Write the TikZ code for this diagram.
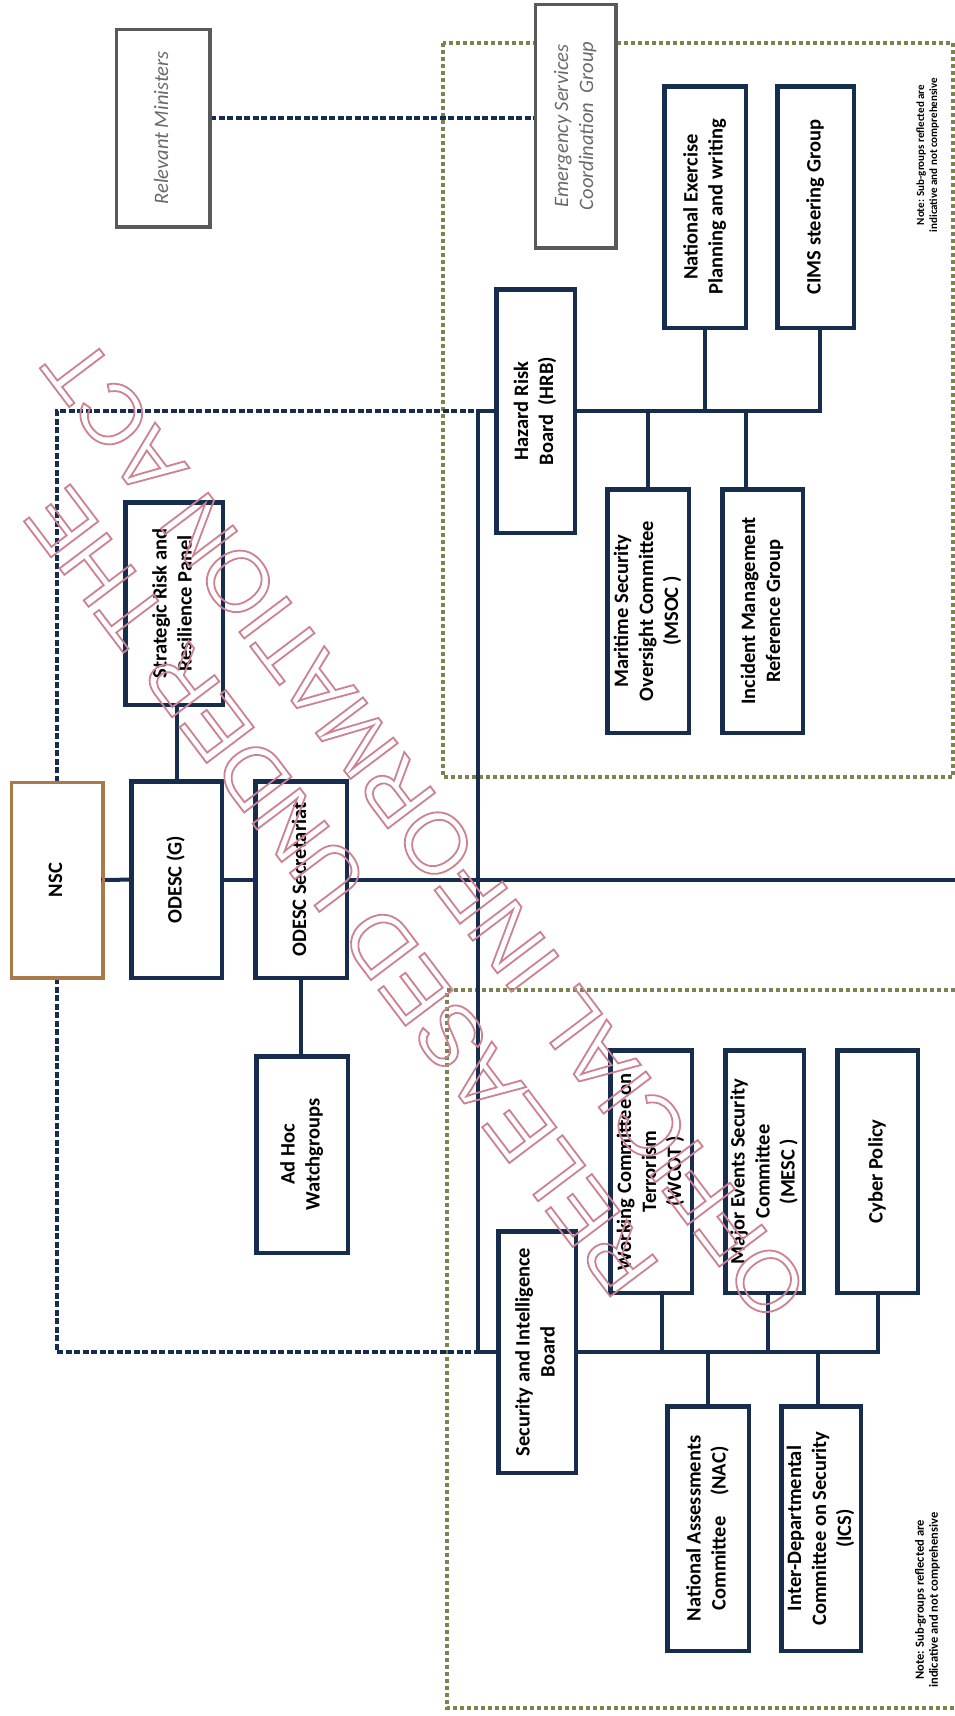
\documentclass[tikz,border=0pt]{standalone}
\usepackage{fontspec}
\setmainfont{Carlito}
\newfontfamily\wmfont{Liberation Sans}
\usepackage{graphicx}
\definecolor{navy}{RGB}{22,45,78}
\definecolor{olive}{RGB}{122,132,78}
\definecolor{grayb}{RGB}{90,90,90}
\definecolor{grayt}{RGB}{105,105,105}
\definecolor{brownb}{RGB}{168,122,72}
\definecolor{wmcol}{RGB}{205,130,145}
\newcommand{\vtxt}[1]{\rotatebox{90}{\begin{tabular}{@{}c@{}}#1\end{tabular}}}
\newcommand{\olt}[1]{\special{pdf:literal direct 1 Tr 1.8 w}#1\special{pdf:literal direct 0 Tr}}
\begin{document}
\begin{tikzpicture}[x=1pt,y=-1pt,
  box/.style={draw=navy, line width=3pt, fill=white, inner sep=0pt, font=\fontsize{20.5}{25}\selectfont\bfseries},
  gbox/.style={draw=grayb, line width=2.5pt, fill=white, inner sep=0pt, text=grayt, font=\fontsize{20.5}{25}\selectfont\itshape},
  nscbox/.style={box, draw=brownb, line width=2.5pt},
  link/.style={draw=navy, line width=4pt, line cap=rect},
  blued/.style={draw=navy, line width=4.5pt, dash pattern=on 6pt off 2.5pt},
  greend/.style={draw=olive, line width=3.5pt, dash pattern=on 4pt off 3pt},
  note/.style={inner sep=0pt, font=\fontsize{11}{13}\selectfont\bfseries},
  sz/.style 2 args={minimum width=#1pt, minimum height=#2pt}
]
\path[use as bounding box] (0,0) rectangle (955,1716);
\fill[white] (0,0) rectangle (955,1716);

% green dotted groupings
\draw[greend] (443,43) rectangle (953,777);
\draw[greend] (955,990) -- (447,990) -- (447,1708) -- (955,1708);

% coordinates
\coordinate (spT) at (478,411);
\coordinate (spB) at (478,1352);
\coordinate (mainR) at (955,879.5);
\coordinate (lk) at (0,118);
\coordinate (hrbJ) at (820,411);
\coordinate (sibJ) at (877.5,1352);

% nodes
\node[gbox, sz={92}{196}] (rm) at (163,128) {\vtxt{Relevant Ministers}};
\node[gbox, sz={79}{242}] (escg) at (575.5,126) {\vtxt{Emergency Services\\Coordination\ \ Group}};
\node[nscbox, sz={90}{194}] (nsc) at (57,880) {\vtxt{NSC}};
\node[box, sz={96}{201}] (srrp) at (174,603.5) {\vtxt{Strategic Risk and\\Resilience Panel}};
\node[box, sz={89}{195}] (odescg) at (176.5,879.5) {\vtxt{ODESC (G)}};
\node[box, sz={90}{195}] (sec) at (301,879.5) {\vtxt{ODESC Secretariat}};
\node[box, sz={90}{195}] (adhoc) at (302,1154.5) {\vtxt{Ad Hoc\\Watchgroups}};
\node[box, sz={77}{242}] (hrb) at (535.5,411) {\vtxt{Hazard Risk\\Board\ \ (HRB)}};
\node[box, sz={80}{242}] (msoc) at (648,611) {\vtxt{Maritime Security\\Oversight Committee\\(MSOC )}};
\node[box, sz={79}{242}] (imrg) at (762.5,611) {\vtxt{Incident Management\\Reference Group}};
\node[box, sz={80}{240}] (nep) at (705,207) {\vtxt{National Exercise\\Planning and writing}};
\node[box, sz={75}{240}] (cims) at (815.5,207) {\vtxt{CIMS steering Group}};
\node[box, sz={76}{240}] (sib) at (537,1352) {\vtxt{Security and Intelligence\\Board}};
\node[box, sz={80}{241}] (wcot) at (651,1171.5) {\vtxt{Working Committee on\\Terrorism\\(WCOT )}};
\node[box, sz={77}{241}] (mesc) at (764.5,1171.5) {\vtxt{Major Events Security\\Committee\\(MESC )}};
\node[box, sz={79}{241}] (cyber) at (877.5,1171.5) {\vtxt{Cyber Policy}};
\node[box, sz={80}{243}] (nac) at (708,1528.5) {\vtxt{National Assessments\\Committee\quad(NAC)}};
\node[box, sz={78}{243}] (ics) at (821,1528.5) {\vtxt{Inter-Departmental\\Committee on Security\\(ICS)}};

\node[note] (note1) at (928,155) {\vtxt{Note: Sub-groups reflected are\\indicative and not comprehensive}};
\node[note, font=\fontsize{12.5}{14}\selectfont\bfseries] (note2) at (928,1600) {\vtxt{Note: Sub-groups reflected are\\indicative and not comprehensive}};

% blue dashed
\draw[blued] (rm.east |- lk) -- (escg.west |- lk);
\draw[blued] (nsc.north) -- (nsc.north |- spT) -- (spT);
\draw[blued] (nsc.south) -- (nsc.south |- spB) -- (spB);

% solid links
\draw[link] (spT) -- (spB);
\draw[link] (nsc) -- (odescg);
\draw[link] (odescg) -- (sec);
\draw[link] (sec) -- (mainR);
\draw[link] (odescg.north) -- (odescg.north |- srrp.south);
\draw[link] (sec.south) -- (sec.south |- adhoc.north);
\draw[link] (spT) -- (hrb);
\draw[link] (hrb) -- (hrbJ);
\draw[link] (msoc.north) -- (msoc.north |- hrbJ);
\draw[link] ([xshift=-17pt]imrg.north) -- ([xshift=-17pt]imrg.north |- hrbJ);
\draw[link] (nep.south) -- (nep.south |- hrbJ);
\draw[link] (hrbJ) -- (hrbJ |- cims.south);
\draw[link] (spB) -- (sib);
\draw[link] (sib) -- (sibJ);
\draw[link] ([xshift=11pt]wcot.south) -- ([xshift=11pt]wcot.south |- sibJ);
\draw[link] ([xshift=3.5pt]mesc.south) -- ([xshift=3.5pt]mesc.south |- sibJ);
\draw[link] (sibJ) -- (sibJ |- cyber.south);
\draw[link] (nac.north) -- (nac.north |- sibJ);
\draw[link] ([xshift=-3pt]ics.north) -- ([xshift=-3pt]ics.north |- sibJ);

% redraw box borders on top of links
\foreach \n in {srrp,odescg,sec,adhoc,hrb,msoc,imrg,nep,cims,sib,wcot,mesc,cyber,nac,ics}{
  \draw[navy, line width=3pt] (\n.south west) rectangle (\n.north east);
}
\draw[brownb, line width=2.5pt] (nsc.south west) rectangle (nsc.north east);
\draw[grayb, line width=2.5pt] (rm.south west) rectangle (rm.north east);
\draw[grayb, line width=2.5pt] (escg.south west) rectangle (escg.north east);

% watermark
\node[rotate=127.1, text=wmcol, font=\wmfont\fontsize{86}{105}\selectfont, align=center, inner sep=0pt] (wmk) at (383,860) {\olt{RELEASED UNDER THE\\OFFICIAL INFORMATION ACT}};
\end{tikzpicture}
\end{document}
